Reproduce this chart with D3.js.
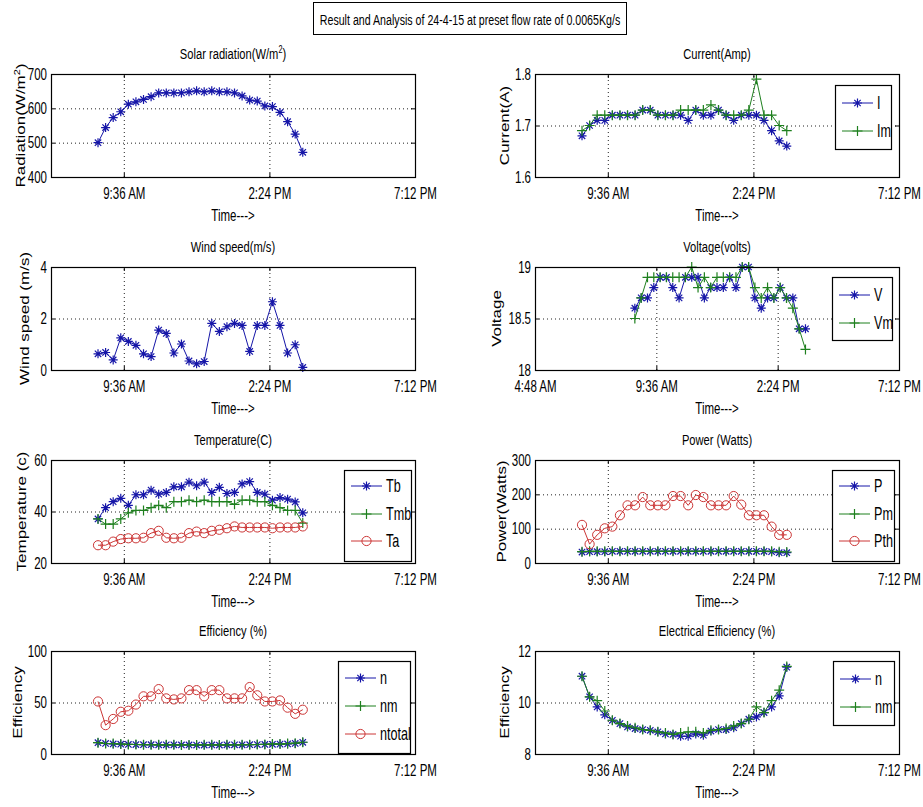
<!DOCTYPE html>
<html>

<head>
  <meta charset="utf-8">
  <title>Result and Analysis of 24-4-15</title>
  <style>
    * {
      padding: 0;
      margin: 0;
    }

    body {
      background: #fff;
    }

    svg text {
      font-family: "Liberation Sans", Arial, sans-serif;
      fill: #000;
    }

    .grid line {
      stroke: #222;
      stroke-dasharray: 1, 3;
    }

    .grid path {
      display: none;
    }
  </style>
</head>

<body>
  <svg id="fig" width="923" height="807"></svg>
  <script src="https://cdnjs.cloudflare.com/ajax/libs/d3/7.8.5/d3.min.js"></script>
  <script>
    // sample times, one reading every 15 minutes
    const times = ['8:45', '9:00', '9:15', '9:30', '9:45', '10:00', '10:15', '10:30', '10:45', '11:00',
      '11:15', '11:30', '11:45', '12:00', '12:15', '12:30', '12:45', '13:00', '13:15', '13:30',
      '13:45', '14:00', '14:15', '14:30', '14:45', '15:00', '15:15', '15:30'];
    const timeTicks = ['9:36', '14:24', '19:12'];
    const voltTimeTicks = ['4:48', '9:36', '14:24', '19:12'];

    const radiation = [500, 544, 573, 590, 612, 619, 626, 634, 645, 645, 645, 645, 648, 651,
      648, 651, 648, 648, 645, 636, 624, 621, 607, 605, 588, 561, 525, 472];
    const wind = [0.63, 0.68, 0.39, 1.25, 1.11, 0.96, 0.63, 0.52, 1.55, 1.42, 0.66, 1.01, 0.35, 0.24,
      0.33, 1.81, 1.5, 1.68, 1.81, 1.73, 0.72, 1.73, 1.73, 2.65, 1.73, 0.66, 0.98, 0.1];

    const currentI = [1.68, 1.70, 1.71, 1.71, 1.72, 1.72, 1.72, 1.72, 1.73, 1.73, 1.72, 1.72, 1.72, 1.72,
      1.71, 1.73, 1.72, 1.72, 1.73, 1.72, 1.71, 1.72, 1.72, 1.72, 1.71, 1.69, 1.67, 1.66];
    const currentIm = [1.69, 1.70, 1.72, 1.72, 1.72, 1.72, 1.72, 1.72, 1.73, 1.73, 1.72, 1.72, 1.72, 1.73,
      1.73, 1.73, 1.73, 1.74, 1.73, 1.72, 1.72, 1.72, 1.73, 1.79, 1.72, 1.72, 1.70, 1.69];

    const voltV = [18.6, 18.7, 18.7, 18.8, 18.9, 18.9, 18.8, 18.7, 18.9, 18.9, 18.9, 18.7, 18.8, 18.8,
      18.8, 18.9, 18.8, 19.0, 19.0, 18.7, 18.6, 18.7, 18.7, 18.8, 18.7, 18.7, 18.4, 18.4];
    const voltVm = [18.5, 18.7, 18.9, 18.9, 18.9, 18.9, 18.9, 18.9, 18.9, 19.0, 18.8, 18.9, 18.8, 18.9,
      18.9, 18.9, 18.9, 19.0, 19.0, 18.8, 18.7, 18.8, 18.7, 18.8, 18.7, 18.6, 18.4, 18.2];

    const tempTb = [37.1, 41.5, 43.8, 45.1, 42.4, 46.5, 46.5, 48.3, 46.7, 47.4, 49.6, 49.6, 51.4, 50.0,
      51.4, 47.4, 49.4, 47.0, 47.4, 50.7, 51.6, 47.4, 46.7, 44.4, 45.4, 44.8, 43.7, 39.5];
    const tempTmb = [37.1, 35.1, 35.1, 37.1, 39.5, 40.4, 40.4, 41.5, 42.4, 41.5, 43.8, 43.8, 44.4, 43.8,
      44.4, 43.8, 43.8, 43.8, 42.8, 44.4, 44.4, 43.8, 43.8, 42.4, 41.5, 40.4, 40.4, 35.5];
    const tempTa = [26.9, 26.9, 28.3, 29.3, 29.6, 29.6, 29.8, 31.6, 32.5, 29.8, 29.6, 29.8, 31.6, 32.2,
      31.6, 32.5, 32.9, 33.5, 34.2, 33.8, 33.8, 33.8, 33.8, 33.5, 33.8, 33.8, 33.8, 34.2];

    const powerP = [32, 33, 33, 33, 34, 34, 34, 34, 34, 34, 34, 34, 34, 34,
      34, 34, 34, 34, 34, 34, 34, 34, 34, 34, 34, 33, 30, 30];
    const powerPm = [33, 34, 34, 34, 34, 34, 34, 34, 34, 34, 34, 34, 34, 34,
      34, 34, 34, 34, 34, 34, 34, 34, 34, 34, 34, 34, 33, 32];
    const powerPth = [111, 55, 82, 101, 106, 139, 168, 168, 192, 168, 168, 168, 195, 195,
      168, 198, 192, 168, 168, 168, 195, 170, 139, 139, 139, 106, 82, 82];

    const effN = [11.0, 10.2, 9.8, 9.5, 9.3, 9.2, 9.0, 9.0, 8.9, 8.9, 8.9, 8.8, 8.8, 8.7,
      8.7, 8.8, 8.7, 8.9, 8.9, 8.9, 9.0, 9.2, 9.3, 9.4, 9.6, 9.8, 10.3, 11.4];
    const effNm = [11.0, 10.2, 10.1, 9.7, 9.3, 9.2, 9.1, 9.0, 8.9, 8.9, 8.9, 8.8, 8.8, 8.8,
      8.9, 8.9, 8.8, 8.9, 8.9, 9.0, 9.1, 9.2, 9.3, 9.8, 9.6, 10.1, 10.5, 11.4];
    const effTotal = [51, 28, 34, 41, 42, 48, 56, 56, 63, 54, 53, 54, 62, 62,
      56, 62, 62, 54, 54, 54, 65, 57, 51, 51, 52, 45, 39, 43];

    const elecN = [11.02, 10.22, 9.83, 9.52, 9.31, 9.18, 9.05, 8.99, 8.95, 8.92, 8.86, 8.78, 8.76, 8.69,
      8.69, 8.78, 8.73, 8.89, 8.95, 8.95, 9.02, 9.18, 9.35, 9.44, 9.61, 9.83, 10.26, 11.37];
    const elecNm = [11.02, 10.22, 10.07, 9.67, 9.31, 9.18, 9.09, 9.02, 8.95, 8.92, 8.86, 8.82, 8.76, 8.82,
      8.86, 8.86, 8.82, 8.92, 8.95, 8.99, 9.09, 9.18, 9.35, 9.83, 9.61, 10.07, 10.48, 11.40];

    const BLUE = '#1616a8', GREEN = '#1f801f', RED = '#cc3636';
    const SX = 0.72; // the original figure is squeezed sideways
    const W = 364, H = 103;

    const parse = d3.timeParse('%H:%M');
    const svg = d3.select('#fig');

    // horizontal text, squeezed like the source; parts may hold a superscript
    function label(g, x, y, parts, size, anchor) {
      const t = g.append('text')
        .attr('transform', `translate(${x},${y}) scale(${SX},1)`)
        .attr('text-anchor', anchor || 'middle')
        .style('font-size', size + 'px');
      parts.forEach(p => {
        const s = t.append('tspan').text(p.t);
        if (p.sup) s.attr('dy', -size * 0.4).style('font-size', size * 0.65 + 'px');
        if (p.after) s.attr('dy', size * 0.4);
      });
      return t;
    }

    function ylabel(g, x, y, parts) {
      const t = g.append('text')
        .attr('transform', `translate(${x},${y}) rotate(-90) scale(1,0.78)`)
        .attr('text-anchor', 'middle')
        .style('font-size', '17px');
      parts.forEach(p => {
        const s = t.append('tspan').text(p.t);
        if (p.sup) s.attr('dy', -7).style('font-size', '11px');
        if (p.after) s.attr('dy', 7);
      });
    }

    const markers = {
      star: 'M-4.5,0H4.5M0,-4.5V4.5M-3.2,-3.2L3.2,3.2M-3.2,3.2L3.2,-3.2',
      plus: 'M-5,0H5M0,-5V5'
    };

    function drawMarker(sel, kind, color) {
      if (kind === 'circle') {
        sel.append('circle').attr('r', 4.6).attr('fill', 'none').attr('stroke', color).attr('stroke-width', 1);
      } else {
        sel.append('path').attr('d', markers[kind]).attr('fill', 'none').attr('stroke', color).attr('stroke-width', 1.2);
      }
    }

    function panel(p) {
      const left = p.left, top = p.top, bottom = top + H, right = left + W;
      const x = d3.scaleTime().domain([parse(p.xFrom), parse('19:12')]).range([left, right]);
      const y = d3.scaleLinear().domain(p.yDomain).range([bottom, top]);
      const g = svg.append('g');

      // grid
      g.append('g').attr('class', 'grid').attr('transform', `translate(0,${bottom})`)
        .call(d3.axisBottom(x).tickValues(p.xTicks.map(parse)).tickSize(-H).tickFormat(''));
      g.append('g').attr('class', 'grid').attr('transform', `translate(${left},0)`)
        .call(d3.axisLeft(y).tickValues(p.yTicks).tickSize(-W).tickFormat(''));

      // series
      const line = d3.line().x(d => x(d.t)).y(d => y(d.v));
      p.series.forEach(s => {
        const pts = s.values.map((v, i) => ({ t: parse(times[i]), v: v }));
        g.append('path').datum(pts).attr('d', line)
          .attr('fill', 'none').attr('stroke', s.color).attr('stroke-width', 1);
        g.append('g').selectAll('g').data(pts).enter().append('g')
          .attr('transform', d => `translate(${x(d.t)},${y(d.v)})`)
          .each(function () { drawMarker(d3.select(this), s.marker, s.color); });
      });

      // box
      g.append('rect').attr('x', left + 0.5).attr('y', top + 0.5).attr('width', W).attr('height', H)
        .attr('fill', 'none').attr('stroke', '#000').attr('stroke-width', 1.2);

      // axes with inward ticks
      const xa = g.append('g').attr('transform', `translate(0,${bottom})`)
        .call(d3.axisBottom(x).tickValues(p.xTicks.map(parse)).tickFormat(d3.timeFormat('%-I:%M %p'))
          .tickSizeInner(-4).tickSizeOuter(0).tickPadding(11));
      g.append('g').attr('transform', `translate(0,${top})`)
        .call(d3.axisTop(x).tickValues(p.xTicks.map(parse)).tickFormat('').tickSizeInner(-4).tickSizeOuter(0));
      const ya = g.append('g').attr('transform', `translate(${left},0)`)
        .call(d3.axisLeft(y).tickValues(p.yTicks).tickFormat(d => d)
          .tickSizeInner(-4).tickSizeOuter(0).tickPadding(4 / SX));
      g.append('g').attr('transform', `translate(${right},0)`)
        .call(d3.axisRight(y).tickValues(p.yTicks).tickFormat('').tickSizeInner(-4).tickSizeOuter(0));
      g.selectAll('.domain').remove();
      g.selectAll('.tick line').attr('stroke', '#000');
      [xa, ya].forEach(a => a.attr('font-family', null).attr('font-size', null)
        .selectAll('text').style('font-size', '16px')
        .attr('transform', `scale(${SX},1)`));

      // labels
      label(g, (left + right) / 2, top - 15, p.title, 15.5);
      label(g, (left + right) / 2, bottom + 44, [{ t: 'Time--->' }], 16);
      ylabel(g, left - p.yOff, (top + bottom) / 2, p.ylabel);

      // legend
      if (p.legend) {
        const lg = g.append('g');
        const L = p.legend;
        lg.append('rect').attr('x', L.x + 0.5).attr('y', L.y + 0.5).attr('width', L.w).attr('height', L.h)
          .attr('fill', '#fff').attr('stroke', '#000').attr('stroke-width', 1.2);
        p.series.forEach((s, i) => {
          const cy = L.y + L.rows[i];
          lg.append('line').attr('x1', L.x + 7).attr('x2', L.x + 38).attr('y1', cy).attr('y2', cy)
            .attr('stroke', s.color).attr('stroke-width', 1);
          drawMarker(lg.append('g').attr('transform', `translate(${L.x + 22.5},${cy})`), s.marker, s.color);
          label(lg, L.x + 42, cy + 6, [{ t: s.name }], 17.5, 'start');
        });
      }
    }

    // figure title
    svg.append('rect').attr('x', 313.5).attr('y', 2.5).attr('width', 313).attr('height', 32)
      .attr('fill', '#fff').attr('stroke', '#000').attr('stroke-width', 1);
    label(svg, 470, 24.5, [{ t: 'Result and Analysis of 24-4-15 at preset flow rate of 0.0065Kg/s' }], 14.8);

    const LX = 51, RX = 535;
    const rows2 = [18, 46], rows3 = [16, 44, 71];

    panel({
      left: LX, top: 74, xFrom: '7:12', xTicks: timeTicks, yDomain: [400, 700], yTicks: [400, 500, 600, 700],
      title: [{ t: 'Solar radiation(W/m' }, { t: '2', sup: true }, { t: ')', after: true }],
      ylabel: [{ t: 'Radiation(W/m' }, { t: '2', sup: true }, { t: ')', after: true }], yOff: 26,
      series: [{ name: 'radiation', values: radiation, color: BLUE, marker: 'star' }]
    });
    panel({
      left: RX, top: 74, xFrom: '7:12', xTicks: timeTicks, yDomain: [1.6, 1.8], yTicks: [1.6, 1.7, 1.8],
      title: [{ t: 'Current(Amp)' }], ylabel: [{ t: 'Current(A)' }], yOff: 26,
      series: [
        { name: 'I', values: currentI, color: BLUE, marker: 'star' },
        { name: 'Im', values: currentIm, color: GREEN, marker: 'plus' }],
      legend: { x: 835, y: 85, w: 56, h: 64, rows: rows2 }
    });
    panel({
      left: LX, top: 267, xFrom: '7:12', xTicks: timeTicks, yDomain: [0, 4], yTicks: [0, 2, 4],
      title: [{ t: 'Wind speed(m/s)' }], ylabel: [{ t: 'Wind speed (m/s)' }], yOff: 22,
      series: [{ name: 'wind', values: wind, color: BLUE, marker: 'star' }]
    });
    panel({
      left: RX, top: 267, xFrom: '4:48', xTicks: voltTimeTicks, yDomain: [18, 19], yTicks: [18, 18.5, 19],
      title: [{ t: 'Voltage(volts)' }], ylabel: [{ t: 'Voltage' }], yOff: 34,
      series: [
        { name: 'V', values: voltV, color: BLUE, marker: 'star' },
        { name: 'Vm', values: voltVm, color: GREEN, marker: 'plus' }],
      legend: { x: 832, y: 277, w: 60, h: 63, rows: rows2 }
    });
    panel({
      left: LX, top: 460, xFrom: '7:12', xTicks: timeTicks, yDomain: [20, 60], yTicks: [20, 40, 60],
      title: [{ t: 'Temperature(C)' }], ylabel: [{ t: 'Temperature (c)' }], yOff: 25,
      series: [
        { name: 'Tb', values: tempTb, color: BLUE, marker: 'star' },
        { name: 'Tmb', values: tempTmb, color: GREEN, marker: 'plus' },
        { name: 'Ta', values: tempTa, color: RED, marker: 'circle' }],
      legend: { x: 344, y: 470, w: 67, h: 91, rows: rows3 }
    });
    panel({
      left: RX, top: 460, xFrom: '7:12', xTicks: timeTicks, yDomain: [0, 300], yTicks: [0, 100, 200, 300],
      title: [{ t: 'Power (Watts)' }], ylabel: [{ t: 'Power(Watts)' }], yOff: 29,
      series: [
        { name: 'P', values: powerP, color: BLUE, marker: 'star' },
        { name: 'Pm', values: powerPm, color: GREEN, marker: 'plus' },
        { name: 'Pth', values: powerPth, color: RED, marker: 'circle' }],
      legend: { x: 832, y: 470, w: 62, h: 91, rows: rows3 }
    });
    panel({
      left: LX, top: 651, xFrom: '7:12', xTicks: timeTicks, yDomain: [0, 100], yTicks: [0, 50, 100],
      title: [{ t: 'Efficiency (%)' }], ylabel: [{ t: 'Efficiency' }], yOff: 29,
      series: [
        { name: 'n', values: effN, color: BLUE, marker: 'star' },
        { name: 'nm', values: effNm, color: GREEN, marker: 'plus' },
        { name: 'ntotal', values: effTotal, color: RED, marker: 'circle' }],
      legend: { x: 338, y: 661, w: 72, h: 92, rows: [17, 45, 73] }
    });
    panel({
      left: RX, top: 651, xFrom: '7:12', xTicks: timeTicks, yDomain: [8, 12], yTicks: [8, 10, 12],
      title: [{ t: 'Electrical Efficiency (%)' }], ylabel: [{ t: 'Efficiency' }], yOff: 26,
      series: [
        { name: 'n', values: elecN, color: BLUE, marker: 'star' },
        { name: 'nm', values: elecNm, color: GREEN, marker: 'plus' }],
      legend: { x: 833, y: 661, w: 61, h: 64, rows: rows2 }
    });
  </script>
</body>

</html>
